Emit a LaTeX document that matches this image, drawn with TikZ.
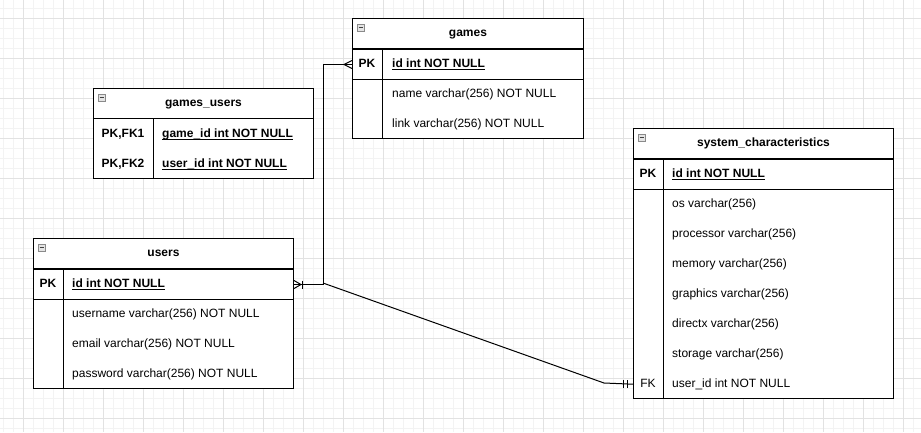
\documentclass[tikz,border=0pt]{standalone}
\usepackage{fontspec}
\setmainfont{Liberation Sans}

\definecolor{gridmajor}{HTML}{E2E2E2}
\definecolor{gridminor}{HTML}{F3F3F3}
\definecolor{iconfill}{HTML}{E4E4E4}
\definecolor{iconedge}{HTML}{8A8A8A}

\newcommand{\erfont}{\fontsize{12pt}{14pt}\selectfont}
\newcommand{\keyline}[1]{\underline{\smash{#1}}}

\tikzset{
  entity/.style={draw, line width=1pt, fill=white, anchor=north west, inner sep=0pt},
  title/.style={entity, minimum height=30pt, text height=9pt, text depth=2.5pt, font=\erfont\bfseries},
  row/.style={anchor=north west, inner sep=0pt, minimum height=30pt},
  pkrow/.style={row, draw, line width=1pt},
  key/.style={inner sep=0pt, text height=9pt, text depth=2.5pt, font=\erfont\bfseries},
  fkkey/.style={key, font=\erfont},
  field/.style={anchor=west, inner sep=0pt, text height=9pt, text depth=2.5pt, font=\erfont},
  pkfield/.style={field, font=\erfont\bfseries},
  icon/.style={draw=iconedge, fill=iconfill, minimum size=7pt, inner sep=0pt, line width=0.6pt,
    path picture={\draw[line width=1pt, black!75]
      ([xshift=1.5pt]path picture bounding box.west) -- ([xshift=-1.5pt]path picture bounding box.east);}},
  rel/.style={line width=1pt},
}

\begin{document}
\begin{tikzpicture}[x=1pt, y=-1pt]
\useasboundingbox (0,0) rectangle (921,432);
\fill[white] (0,0) rectangle (921,432);

% grid
\foreach \x in {3,13,...,921} \draw[gridminor, line width=0.8pt] (\x,0) -- (\x,432);
\foreach \y in {8,18,...,432} \draw[gridminor, line width=0.8pt] (0,\y) -- (921,\y);
\foreach \x in {23,63,...,921} \draw[gridmajor, line width=0.8pt] (\x,0) -- (\x,432);
\foreach \y in {18,58,...,432} \draw[gridmajor, line width=0.8pt] (0,\y) -- (921,\y);

% games
\node[entity, minimum width=231pt, minimum height=120pt] (games) at (352,18) {};
\node[title, minimum width=231pt] (gamesHead) at (games.north west) {games};
\node[pkrow, minimum width=231pt] (gamesPK) at (gamesHead.south west) {};
\draw[line width=1pt] ([xshift=30pt]gamesPK.north west) -- ([xshift=30pt]games.south west);
\node[icon] (gamesIcon) at ([xshift=8.5pt,yshift=-9.5pt]gamesHead.north west) {};
\node[key] (gamesKey) at ([xshift=15pt]gamesPK.west) {PK};
\node[pkfield] (gamesId) at ([xshift=40pt]gamesPK.west) {\keyline{id int NOT NULL}};
\node[field] (gamesName) at ([xshift=40pt,yshift=-30pt]gamesPK.west) {name varchar(256) NOT NULL};
\node[field] (gamesLink) at ([xshift=40pt,yshift=-60pt]gamesPK.west) {link varchar(256) NOT NULL};

% games_users
\node[entity, minimum width=220pt, minimum height=90pt] (gu) at (93,88) {};
\node[title, minimum width=220pt] (guHead) at (gu.north west) {games\_users};
\node[row, minimum width=220pt] (guRowA) at (guHead.south west) {};
\node[row, minimum width=220pt] (guRowB) at (guRowA.south west) {};
\draw[line width=1pt] ([xshift=60pt]guHead.south west) -- ([xshift=60pt]gu.south west);
\node[icon] (guIcon) at ([xshift=8.5pt,yshift=-9.5pt]guHead.north west) {};
\node[key] (guKeyA) at ([xshift=30pt]guRowA.west) {PK,FK1};
\node[key] (guKeyB) at ([xshift=30pt]guRowB.west) {PK,FK2};
\node[pkfield] (guGame) at ([xshift=69pt]guRowA.west) {\keyline{game\_id int NOT NULL}};
\node[pkfield] (guUser) at ([xshift=69pt]guRowB.west) {\keyline{user\_id int NOT NULL}};

% users
\node[entity, minimum width=260pt, minimum height=150pt] (users) at (33,238) {};
\node[title, minimum width=260pt] (usersHead) at (users.north west) {users};
\node[pkrow, minimum width=260pt] (usersPK) at (usersHead.south west) {};
\draw[line width=1pt] ([xshift=30pt]usersPK.north west) -- ([xshift=30pt]users.south west);
\node[icon] (usersIcon) at ([xshift=8.5pt,yshift=-9.5pt]usersHead.north west) {};
\node[key] (usersKey) at ([xshift=15pt]usersPK.west) {PK};
\node[pkfield] (usersId) at ([xshift=39pt]usersPK.west) {\keyline{id int NOT NULL}};
\node[field] (usersName) at ([xshift=39pt,yshift=-30pt]usersPK.west) {username varchar(256) NOT NULL};
\node[field] (usersMail) at ([xshift=39pt,yshift=-60pt]usersPK.west) {email varchar(256) NOT NULL};
\node[field] (usersPass) at ([xshift=39pt,yshift=-90pt]usersPK.west) {password varchar(256) NOT NULL};

% system_characteristics
\node[entity, minimum width=260pt, minimum height=270pt] (sys) at (633,128) {};
\node[title, minimum width=260pt] (sysHead) at (sys.north west) {system\_characteristics};
\node[pkrow, minimum width=260pt] (sysPK) at (sysHead.south west) {};
\node[row, minimum width=260pt] (sysFK) at ([yshift=30pt]sys.south west) {};
\draw[line width=1pt] ([xshift=30pt]sysPK.north west) -- ([xshift=30pt]sys.south west);
\node[icon] (sysIcon) at ([xshift=8.5pt,yshift=-9.5pt]sysHead.north west) {};
\node[key] (sysKey) at ([xshift=15pt]sysPK.west) {PK};
\node[pkfield] (sysId) at ([xshift=39pt]sysPK.west) {\keyline{id int NOT NULL}};
\node[field] (sysOs) at ([xshift=39pt,yshift=-30pt]sysPK.west) {os varchar(256)};
\node[field] (sysCpu) at ([xshift=39pt,yshift=-60pt]sysPK.west) {processor varchar(256)};
\node[field] (sysMem) at ([xshift=39pt,yshift=-90pt]sysPK.west) {memory varchar(256)};
\node[field] (sysGpu) at ([xshift=39pt,yshift=-120pt]sysPK.west) {graphics varchar(256)};
\node[field] (sysDx) at ([xshift=39pt,yshift=-150pt]sysPK.west) {directx varchar(256)};
\node[field] (sysDisk) at ([xshift=39pt,yshift=-180pt]sysPK.west) {storage varchar(256)};
\node[fkkey] (sysFKKey) at ([xshift=15pt]sysFK.west) {FK};
\node[field] (sysUser) at ([xshift=39pt]sysFK.west) {user\_id int NOT NULL};

% relations
\coordinate (bend) at (323,283);
\coordinate (knee) at (604,383);
\draw[rel] (usersPK.east) -| ([xshift=-29pt]gamesPK.west) -- (gamesPK.west);
\draw[rel] (bend) -- (knee) -- (sysFK.west);

% many (games)
\draw[rel] ([xshift=-8pt]gamesPK.west) -- ([yshift=4pt]gamesPK.west);
\draw[rel] ([xshift=-8pt]gamesPK.west) -- ([yshift=-4pt]gamesPK.west);
% one or many (users)
\draw[rel] ([xshift=7pt]usersPK.east) -- ([yshift=4pt]usersPK.east);
\draw[rel] ([xshift=7pt]usersPK.east) -- ([yshift=-4pt]usersPK.east);
\draw[rel] ([xshift=8pt,yshift=4pt]usersPK.east) -- ([xshift=8pt,yshift=-4pt]usersPK.east);
% one and only one (system_characteristics)
\draw[rel] ([xshift=-10pt,yshift=4pt]sysFK.west) -- ([xshift=-10pt,yshift=-4pt]sysFK.west);
\draw[rel] ([xshift=-6pt,yshift=4pt]sysFK.west) -- ([xshift=-6pt,yshift=-4pt]sysFK.west);
\end{tikzpicture}
\end{document}
